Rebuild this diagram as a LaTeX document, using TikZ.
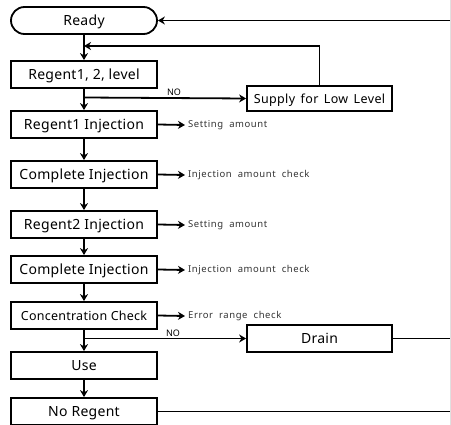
\documentclass[tikz,border=0pt]{standalone}
\usepackage{fontspec}
\setmainfont{Noto Sans}
\newfontfamily\boxfont{Noto Sans}[LetterSpace=2]
\newfontfamily\supfont{Noto Sans}[LetterSpace=3,WordSpace=1.5]
\newfontfamily\notefont{Noto Sans}[LetterSpace=6,WordSpace=2]
\usetikzlibrary{arrows.meta,shapes.misc}
\begin{document}
\begin{tikzpicture}[x=1pt,y=-1pt,
  box/.style={draw, line width=1.8pt, minimum width=146pt, minimum height=27pt, inner sep=0pt, text height=12.5pt, text depth=2pt, font=\boxfont\fontsize{14}{16}\selectfont},
  sbox/.style={box, text height=11.5pt, text depth=2pt, font=\boxfont\fontsize{12.5}{14}\selectfont},
  wbox/.style={box, minimum width=145pt, minimum height=25.5pt, text height=11.5pt, text depth=2pt, font=\supfont\fontsize{12.5}{14}\selectfont},
  conn/.style={line width=1.8pt, -{Stealth[length=7pt,width=8pt]}},
  plain/.style={line width=1.8pt},
  note/.style={font=\notefont\fontsize{9.5}{11}\selectfont, text=black!80, anchor=west, inner sep=0pt},
  nolab/.style={font=\fontsize{9}{11}\selectfont, inner sep=0pt}]
\useasboundingbox (0,0) rectangle (451,425);
\node[box, rounded rectangle] (ready) at (84,20.5) {Ready};
\node[box] (lvl) at (84,74.5) {Regent1, 2, level};
\node[wbox] (sup) at (319.5,98.5) {Supply for Low Level};
\node[box] (r1) at (84,124.5) {Regent1 Injection};
\node[box] (c1) at (84,174.5) {Complete Injection};
\node[box] (r2) at (84,224.5) {Regent2 Injection};
\node[box] (c2) at (84,269.5) {Complete Injection};
\node[sbox] (cc) at (84,315.5) {Concentration Check};
\node[box, minimum width=145pt] (drain) at (319.5,338.5) {Drain};
\node[box] (use) at (84,365.5) {Use};
\node[box] (nr) at (84,411.5) {No Regent};

\node[note] (n1) at (188,125) {Setting amount};
\node[note] (n2) at (188,175) {Injection amount check};
\node[note] (n3) at (188,225) {Setting amount};
\node[note] (n4) at (188,270) {Injection amount check};
\node[note] (n5) at (188,316) {Error range check};
\node[nolab] (no1) at (174,92) {NO};
\node[nolab] (no2) at (173,333) {NO};

\coordinate (e0) at (452,20.5);
\coordinate (e1) at (452,338.5);
\coordinate (e2) at (452,411.5);
\coordinate (fb) at (84,46);
\coordinate (j1) at (84,97.5);
\coordinate (j2) at (84,338.5);

\draw[conn] (e0) -- (ready.east);
\draw[conn] (ready.south) -- (lvl.north);
\draw[conn] (sup.north) |- (fb);
\draw[conn] (lvl.south) -- (r1.north);
\draw[conn] (j1) -- (sup.west);
\draw[conn] (r1.south) -- (c1.north);
\draw[conn] (c1.south) -- (r2.north);
\draw[conn] (r2.south) -- (c2.north);
\draw[conn] (c2.south) -- (cc.north);
\draw[conn] (cc.south) -- (use.north);
\draw[conn] (j2) -- (drain.west);
\draw[conn] (use.south) -- (nr.north);
\draw[plain] (drain.east) -- (e1);
\draw[plain] (nr.east) -- (e2);

\draw[conn] (r1.east) -- ([xshift=-3pt]n1.west);
\draw[conn] (c1.east) -- ([xshift=-3pt]n2.west);
\draw[conn] (r2.east) -- ([xshift=-3pt]n3.west);
\draw[conn] (c2.east) -- ([xshift=-3pt]n4.west);
\draw[conn] (cc.east) -- ([xshift=-3pt]n5.west);
\draw[black!12, line width=0.8pt] (450,0) -- (450,425);
\end{tikzpicture}
\end{document}
